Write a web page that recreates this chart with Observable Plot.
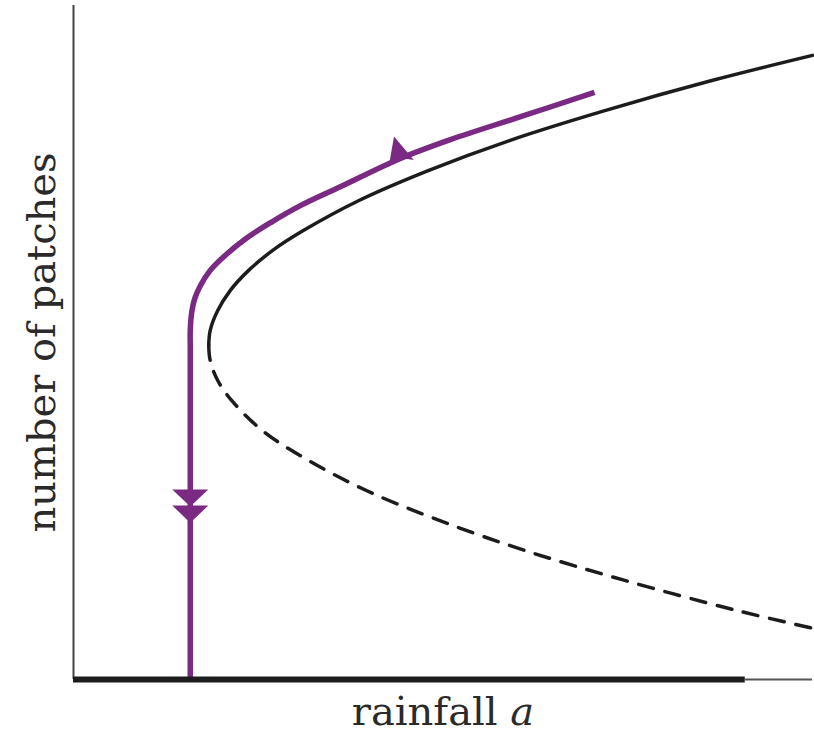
<!DOCTYPE html>
<html>
<head>
<meta charset="utf-8">
<script src="https://cdn.jsdelivr.net/npm/d3@7"></script>
<script src="https://cdn.jsdelivr.net/npm/@observablehq/plot@0.6"></script>
<style>
  html, body { margin: 0; padding: 0; background: #fff; }
  #chart svg { display: block; }
</style>
</head>
<body>
<div id="chart"></div>
<script>
// ---- Data (normalized units: rainfall 0..1, patches 0..1) ----
// Stable (upper) branch of the fold
const upperRainfall = [0.183, 0.185, 0.195, 0.212, 0.237, 0.270, 0.311, 0.387, 0.480, 0.591, 0.719, 0.865, 1.000];
const upperPatches  = [0.496, 0.518, 0.547, 0.577, 0.607, 0.637, 0.666, 0.711, 0.755, 0.800, 0.844, 0.889, 0.926];
// Unstable (lower, dashed) branch
const lowerRainfall = [0.183, 0.185, 0.195, 0.214, 0.256, 0.318, 0.397, 0.495, 0.612, 0.746, 0.899, 1.000];
const lowerPatches  = [0.496, 0.473, 0.444, 0.414, 0.369, 0.325, 0.280, 0.236, 0.191, 0.147, 0.102, 0.076];
// Purple trajectory (decreasing rainfall, then collapse)
const pathRainfall = [0.705, 0.605, 0.510, 0.440, 0.361, 0.307, 0.267, 0.233, 0.204, 0.185, 0.172, 0.164, 0.160, 0.158, 0.158, 0.158, 0.158, 0.158];
const pathPatches  = [0.871, 0.835, 0.801, 0.772, 0.731, 0.703, 0.678, 0.654, 0.628, 0.607, 0.585, 0.565, 0.545, 0.518, 0.490, 0.350, 0.150, 0.000];
// Arrow heads on the trajectory
const arrowUpRainfall = [0.440];
const arrowUpPatches  = [0.780];
const arrowDownRainfall = [0.158, 0.158];
const arrowDownPatches  = [0.270, 0.246];
// Bare state (thick segment of the rainfall axis) extent
const bareStateEnd = 0.909;

const xLabel = "rainfall a";
const yLabel = "number of patches";

// ---- Tables ----
const upper = d3.zip(upperRainfall, upperPatches).map(([x, y]) => ({x, y}));
const lower = d3.zip(lowerRainfall, lowerPatches).map(([x, y]) => ({x, y}));
const path  = d3.zip(pathRainfall, pathPatches).map(([x, y]) => ({x, y}));
const arrowsUp = d3.zip(arrowUpRainfall, arrowUpPatches).map(([x, y]) => ({x, y}));
const arrowsDown = d3.zip(arrowDownRainfall, arrowDownPatches).map(([x, y]) => ({x, y}));

const purple = "#7a2a82";
const ink = "#1c1c1c";

// Custom arrow-head symbols (pointing "up" in local coordinates)
const stealth = {
  draw(ctx, size) {
    const r = Math.sqrt(size / Math.PI);
    ctx.moveTo(0, -1.12 * r);
    ctx.lineTo(0.81 * r, 0.62 * r);
    ctx.lineTo(0, 0.25 * r);
    ctx.lineTo(-0.81 * r, 0.62 * r);
    ctx.closePath();
  }
};
const wideDown = {
  draw(ctx, size) {
    const r = Math.sqrt(size / Math.PI);
    ctx.moveTo(-r, -0.45 * r);
    ctx.lineTo(r, -0.45 * r);
    ctx.lineTo(0, 0.5 * r);
    ctx.closePath();
  }
};

const chart = Plot.plot({
  width: 814,
  height: 734,
  marginLeft: 73,
  marginRight: 2,
  marginTop: 5,
  marginBottom: 55,
  style: {fontFamily: "'DejaVu Serif', serif", background: "#fff", overflow: "visible"},
  x: {domain: [0, 1], axis: null},
  y: {domain: [0, 1], axis: null},
  marks: [
    // axes
    Plot.ruleX([0], {y1: 0, y2: 1, stroke: "#444", strokeWidth: 2}),
    Plot.ruleY([0], {x1: bareStateEnd, x2: 1, stroke: "#555", strokeWidth: 2}),
    // fold curve
    Plot.line(upper, {x: "x", y: "y", curve: "catmull-rom", stroke: ink, strokeWidth: 3.5}),
    Plot.line(lower, {x: "x", y: "y", curve: "catmull-rom", stroke: ink, strokeWidth: 3.5, strokeDasharray: "15,12"}),
    // trajectory
    Plot.line(path, {x: "x", y: "y", curve: "catmull-rom", stroke: purple, strokeWidth: 5.5, strokeLinecap: "butt"}),
    Plot.ruleY([0], {x1: 0, x2: bareStateEnd, stroke: ink, strokeWidth: 6}),
    Plot.dot(arrowsUp, {x: "x", y: "y", symbol: stealth, r: 16, fill: purple, stroke: "none", rotate: -15}),
    Plot.dot(arrowsDown, {x: "x", y: "y", symbol: wideDown, r: 18, fill: purple, stroke: "none"}),
    // labels
    Plot.text([xLabel], {frameAnchor: "bottom", dy: 45, fontSize: 40, fill: "#2a2a2a", textAnchor: "middle"}),
    Plot.text([yLabel], {frameAnchor: "left", dx: -31, rotate: -90, fontSize: 40, fill: "#2a2a2a", textAnchor: "middle"})
  ]
});

// italic math variable "a" in the x label
d3.select(chart).selectAll("text").each(function() {
  const t = d3.select(this);
  if (t.text() === xLabel) {
    t.text("rainfall ");
    t.append("tspan").attr("font-style", "italic").text("a");
  }
});

document.getElementById("chart").appendChild(chart);
</script>
</body>
</html>
